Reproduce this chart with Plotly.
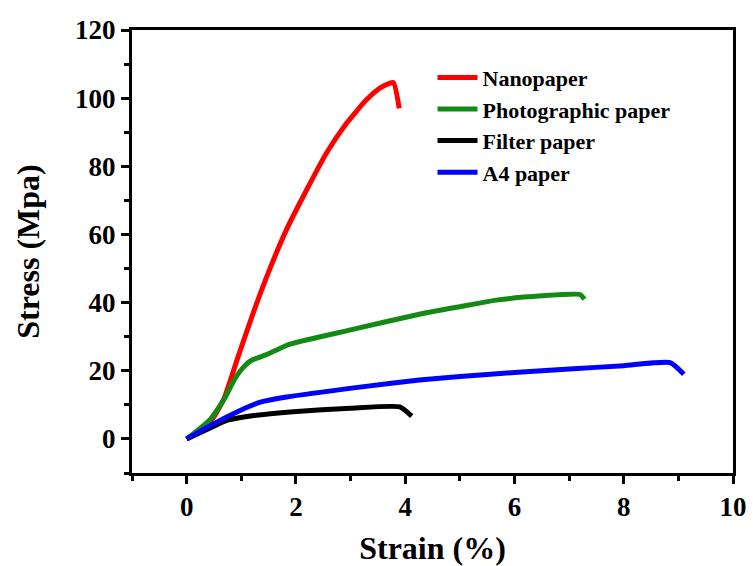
import plotly.graph_objects as go

nano_x = [0, 0.3, 0.5, 0.68, 0.95, 1.23, 1.53, 1.83, 2.2, 2.56, 2.93, 3.29, 3.53, 3.78, 3.89]
nano_y = [0, 3, 6.5, 11.7, 24.5, 37.5, 50.2, 61.5, 73.2, 83.9, 92.7, 99.5, 102.9, 104.6, 97]

photo_x = [0, 0.2, 0.44, 0.7, 0.86, 1.0, 1.17, 1.5, 1.89, 3.0, 4.26, 5.0, 5.7, 6.5, 7.2, 7.28]
photo_y = [0, 2.5, 5.9, 12, 17, 20.3, 22.9, 25, 27.8, 32, 36.6, 38.8, 40.8, 42, 42.4, 41]

filter_x = [0, 0.4, 0.75, 1.2, 1.95, 3.0, 3.9, 4.12]
filter_y = [0, 3, 5.5, 6.8, 8.0, 9.0, 9.4, 6.7]

a4_x = [0, 0.5, 1.0, 1.35, 1.83, 3.17, 4.26, 5.0, 6.0, 7.0, 8.0, 8.85, 9.1]
a4_y = [0, 4.5, 8.5, 10.8, 12.3, 15.2, 17.3, 18.3, 19.5, 20.5, 21.5, 22.4, 19]

names = ["Nanopaper", "Photographic paper", "Filter paper", "A4 paper"]
colors = ["#ff0000", "#138a13", "#000000", "#0000ff"]

x_ticks = [0, 2, 4, 6, 8, 10]
y_ticks = [0, 20, 40, 60, 80, 100, 120]

fig = go.Figure()
for nm, xs, ys, c in zip(names, [nano_x, photo_x, filter_x, a4_x],
                         [nano_y, photo_y, filter_y, a4_y], colors):
    fig.add_trace(go.Scatter(x=xs, y=ys, mode="lines", name=nm,
                             line=dict(color=c, width=5, shape="spline", smoothing=0.5)))

font_family = "Times New Roman, Liberation Serif, serif"
axis_common = dict(
    showline=True, linewidth=3, linecolor="black", mirror=True,
    ticks="outside", ticklen=8, tickwidth=3, tickcolor="black",
    showgrid=False, zeroline=False, automargin=False,
    tickfont=dict(family=font_family, size=27, color="black", weight="bold"),
)

fig.update_xaxes(range=[-1, 10], tickvals=x_ticks,
                 minor=dict(ticks="outside", ticklen=5, tickwidth=3, tickcolor="black", dtick=1, tick0=1),
                 title=dict(text="Strain (%)", standoff=24,
                            font=dict(family=font_family, size=32, color="black", weight="bold")),
                 **axis_common)
fig.update_yaxes(range=[-10, 120], tickvals=y_ticks,
                 minor=dict(ticks="outside", ticklen=5, tickwidth=3, tickcolor="black", dtick=10, tick0=10),
                 title=dict(text="Stress (Mpa)", standoff=26,
                            font=dict(family=font_family, size=32, color="black", weight="bold")),
                 **axis_common)

fig.update_layout(
    width=753, height=566,
    margin=dict(l=132, r=20, t=30, b=93),
    plot_bgcolor="white", paper_bgcolor="white",
    legend=dict(x=0.5, y=0.94, xanchor="left", yanchor="top",
                font=dict(family=font_family, size=22, color="black", weight="bold"),
                bgcolor="rgba(0,0,0,0)", tracegroupgap=0, itemwidth=40),
)

fig.write_html("out.html")
